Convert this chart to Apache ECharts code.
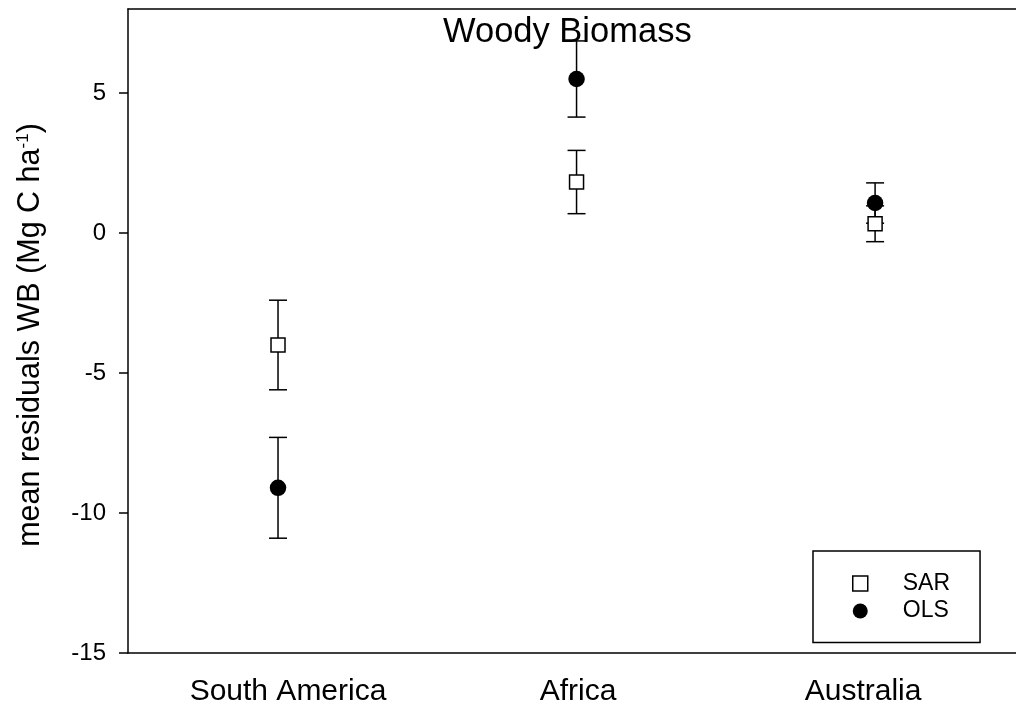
<!DOCTYPE html>
<html>
<head>
<meta charset="utf-8">
<script src="https://cdn.jsdelivr.net/npm/echarts@6/dist/echarts.min.js"></script>
<style>
html,body{margin:0;padding:0;background:#fff;}
#chart{width:1016px;height:711px;}
</style>
</head>
<body>
<div id="chart"></div>
<script>
const categories = ['South America', 'Africa', 'Australia'];
const sarMean = [-4.0, 1.82, 0.33];
const sarErr = [1.6, 1.13, 0.64];
const olsMean = [-9.1, 5.5, 1.07];
const olsErr = [1.8, 1.36, 0.72];
const yTicks = [-15, -10, -5, 0, 5];

const FONT = '"Liberation Sans", Arial, sans-serif';
const catIdx = categories.map((c, i) => i);

function errData(means, errs) {
  return means.map((m, i) => [i, m - errs[i], m + errs[i]]);
}

function renderErr(params, api) {
  const idx = api.value(0);
  const lo = api.coord([idx, api.value(1)]);
  const hi = api.coord([idx, api.value(2)]);
  const half = 9;
  const style = { stroke: '#000', lineWidth: 1.5, fill: null };
  return {
    type: 'group',
    children: [
      { type: 'line', shape: { x1: lo[0], y1: lo[1], x2: hi[0], y2: hi[1] }, style: style },
      { type: 'line', shape: { x1: lo[0] - half, y1: lo[1], x2: lo[0] + half, y2: lo[1] }, style: style },
      { type: 'line', shape: { x1: hi[0] - half, y1: hi[1], x2: hi[0] + half, y2: hi[1] }, style: style }
    ]
  };
}

const X_MIN = -0.5025, X_MAX = 2.472;

const chart = echarts.init(document.getElementById('chart'), null, { renderer: 'canvas' });
chart.setOption({
  animation: false,
  backgroundColor: '#fff',
  textStyle: { fontFamily: FONT },
  title: {
    text: 'Woody Biomass',
    left: 443,
    top: 15,
    padding: 0,
    textStyle: { fontFamily: FONT, fontSize: 34.5, fontWeight: 'normal', color: '#000' }
  },
  legend: {
    left: 813,
    top: 551,
    orient: 'vertical',
    borderColor: '#000',
    borderWidth: 1.5,
    padding: [21, 30, 20, 39],
    itemGap: 4.5,
    itemWidth: 15,
    itemHeight: 15,
    textStyle: { fontFamily: FONT, fontSize: 23, color: '#000', padding: [0, 0, 0, 30] },
    data: [
      { name: 'SAR', icon: 'rect', itemStyle: { color: '#fff', borderColor: '#000', borderWidth: 1.5 } },
      { name: 'OLS', icon: 'circle', itemStyle: { color: '#000', borderColor: '#000', borderWidth: 0 } }
    ]
  },
  grid: {
    left: 128,
    top: 9,
    right: 0,
    height: 644,
    show: false,
    containLabel: false
  },
  xAxis: [
    {
      type: 'value',
      min: X_MIN,
      max: X_MAX,
      position: 'bottom',
      axisLine: { onZero: false, lineStyle: { color: '#000', width: 1.5 } },
      axisTick: { show: false },
      axisLabel: {
        color: '#000', fontFamily: FONT, fontSize: 30, margin: 24,
        customValues: catIdx,
        formatter: function (v) {
          const i = Math.round(v);
          return '{c' + i + '|' + categories[i] + '}';
        },
        rich: {
          c0: { fontFamily: FONT, fontSize: 30, color: '#000', padding: [0, 0, 0, 20] },
          c1: { fontFamily: FONT, fontSize: 30, color: '#000', padding: [0, 0, 0, 3] },
          c2: { fontFamily: FONT, fontSize: 30, color: '#000', padding: [0, 24, 0, 0] }
        }
      },
      splitLine: { show: false }
    },
    {
      type: 'value',
      min: X_MIN,
      max: X_MAX,
      position: 'top',
      axisLine: { onZero: false, lineStyle: { color: '#000', width: 1.5 } },
      axisTick: { show: false },
      axisLabel: { show: false },
      splitLine: { show: false }
    }
  ],
  yAxis: {
    type: 'value',
    min: -15,
    max: 8,
    interval: 5,
    axisLine: { show: true, onZero: false, lineStyle: { color: '#000', width: 1.5 } },
    axisTick: { show: true, length: 9, customValues: yTicks, lineStyle: { color: '#000', width: 1.5 } },
    axisLabel: {
      color: '#000', fontFamily: FONT, fontSize: 24, margin: 22,
      customValues: yTicks
    },
    splitLine: { show: false },
    name: '{a|mean residuals WB (Mg C ha}{s|-1}{a|)}',
    nameLocation: 'middle',
    nameRotate: 90,
    nameGap: 82,
    nameTextStyle: {
      padding: [0, 8, 0, 0],
      rich: {
        a: { fontFamily: FONT, fontSize: 30.5, color: '#000', lineHeight: 31, verticalAlign: 'bottom' },
        s: { fontFamily: FONT, fontSize: 17, color: '#000', lineHeight: 31, verticalAlign: 'top' }
      }
    }
  },
  series: [
    {
      name: 'SAR err', type: 'custom', renderItem: renderErr,
      data: errData(sarMean, sarErr), z: 2, silent: true
    },
    {
      name: 'OLS err', type: 'custom', renderItem: renderErr,
      data: errData(olsMean, olsErr), z: 2, silent: true
    },
    {
      name: 'SAR', type: 'scatter', symbol: 'rect', symbolSize: 14, z: 3,
      itemStyle: { color: '#fff', borderColor: '#000', borderWidth: 1.5, opacity: 1 },
      data: sarMean.map((v, i) => [i, v])
    },
    {
      name: 'OLS', type: 'scatter', symbol: 'circle', symbolSize: 16.5, z: 4,
      itemStyle: { color: '#000', opacity: 1 },
      data: olsMean.map((v, i) => [i, v])
    }
  ]
});
</script>
</body>
</html>
